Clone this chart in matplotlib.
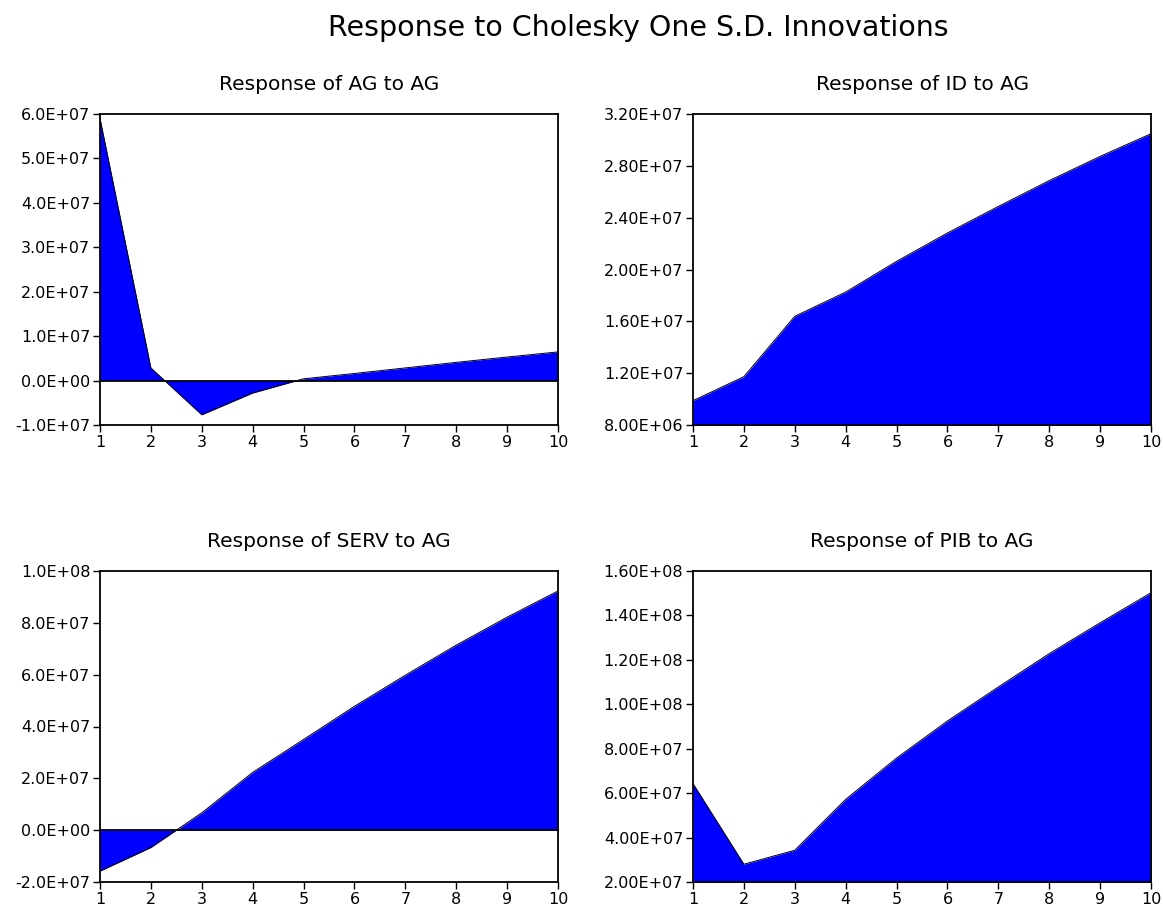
import matplotlib
matplotlib.use("Agg")
import matplotlib.pyplot as plt
from matplotlib.ticker import FixedLocator, FuncFormatter

plt.rcParams['font.family'] = ['DejaVu Sans']

periods = [1, 2, 3, 4, 5, 6, 7, 8, 9, 10]

resp_ag = [5.90e7, 2.85e6, -7.7e6, -2.8e6, 4.0e5, 1.6e6, 2.85e6, 4.1e6, 5.3e6, 6.45e6]
resp_id = [9.88e6, 1.173e7, 1.639e7, 1.826e7, 2.063e7, 2.282e7, 2.487e7, 2.686e7, 2.873e7, 3.048e7]
resp_serv = [-1.58e7, -6.7e6, 6.7e6, 2.23e7, 3.50e7, 4.78e7, 5.98e7, 7.14e7, 8.22e7, 9.23e7]
resp_pib = [6.43e7, 2.80e7, 3.43e7, 5.72e7, 7.58e7, 9.25e7, 1.078e8, 1.228e8, 1.367e8, 1.502e8]

titles = ["Response of AG to AG", "Response of ID to AG",
          "Response of SERV to AG", "Response of PIB to AG"]
series = [resp_ag, resp_id, resp_serv, resp_pib]
yticks = [
    [-1.0e7, 0.0, 1.0e7, 2.0e7, 3.0e7, 4.0e7, 5.0e7, 6.0e7],
    [8.0e6, 1.2e7, 1.6e7, 2.0e7, 2.4e7, 2.8e7, 3.2e7],
    [-2.0e7, 0.0, 2.0e7, 4.0e7, 6.0e7, 8.0e7, 1.0e8],
    [2.0e7, 4.0e7, 6.0e7, 8.0e7, 1.0e8, 1.2e8, 1.4e8, 1.6e8],
]
ydec = [1, 2, 1, 2]
main_title = "Response to Cholesky One S.D. Innovations"

W, H = 1163, 907
fig = plt.figure(figsize=(W / 100, H / 100), dpi=100)
fig.patch.set_facecolor("white")

boxes = [(100, 558, 114, 425), (693, 1151, 114, 425),
         (100, 558, 571, 882), (693, 1151, 571, 882)]

for i in range(4):
    l, r, t, b = boxes[i]
    ax = fig.add_axes([l / W, 1 - b / H, (r - l) / W, (b - t) / H])
    y = series[i]
    ax.fill_between(periods, y, 0, color="#0000ff", linewidth=0, zorder=1)
    ax.plot(periods, y, color="black", linewidth=0.7, zorder=2)
    ticks = yticks[i]
    ax.set_ylim(ticks[0], ticks[-1])
    ax.set_xlim(periods[0], periods[-1])
    if ticks[0] < 0 < ticks[-1]:
        ax.axhline(0, color="black", linewidth=1.3, zorder=3)
    ax.yaxis.set_major_locator(FixedLocator(ticks))
    d = ydec[i]
    ax.yaxis.set_major_formatter(FuncFormatter(lambda v, p, d=d: ("{:.%dE}" % d).format(v)))
    ax.set_xticks(periods)
    ax.set_xticklabels([str(p) for p in periods])
    ax.tick_params(axis="both", direction="out", length=5, width=1.0,
                   labelsize=11.5, pad=2, color="black")
    for s in ax.spines.values():
        s.set_linewidth(1.3)
        s.set_zorder(4)
    ax.set_title(titles[i], fontsize=14.5, pad=17)

fig.text(638 / W, 1 - 28 / H, main_title, ha="center", va="center", fontsize=20.5)

fig.savefig("out.png", dpi=100, facecolor="white")
